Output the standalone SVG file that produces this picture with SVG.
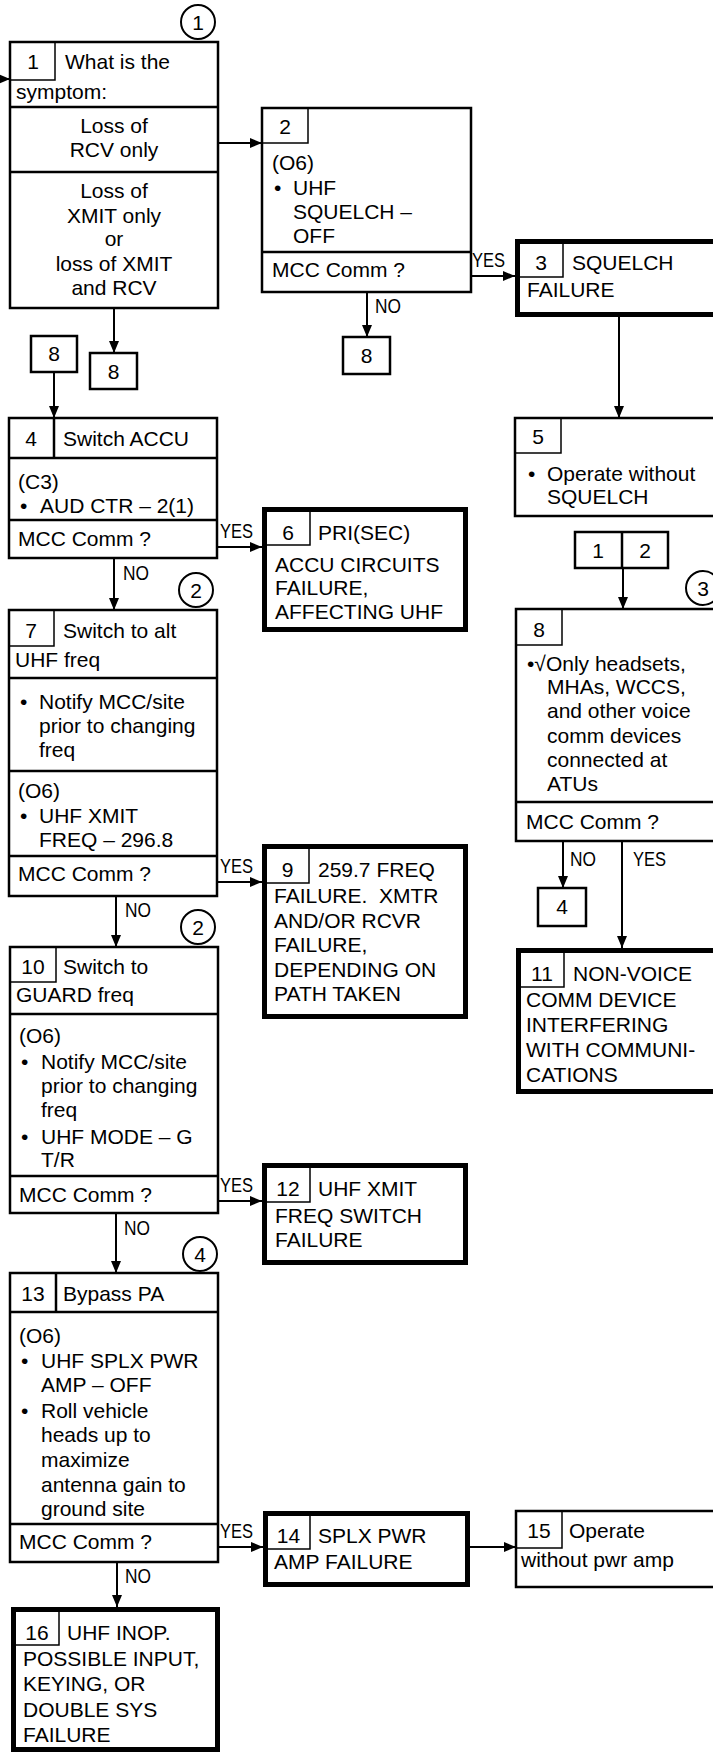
<svg xmlns="http://www.w3.org/2000/svg" width="713" height="1753" viewBox="0 0 713 1753">
<style>
text{font-family:"Liberation Sans",Arial,sans-serif;font-size:21px;fill:#000}
.c{text-anchor:middle}
.lb{font-size:20px}
.box{fill:#fff;stroke:#000;stroke-width:2.5}
.thick{fill:#fff;stroke:#000;stroke-width:5}
.nb{fill:none;stroke:#000;stroke-width:1.5}
.ln{stroke:#000;stroke-width:2.5;fill:none}
.conn{stroke:#000;stroke-width:2;fill:none;marker-end:url(#ah)}
.circ{fill:#fff;stroke:#000;stroke-width:2}
</style>
<defs>
<marker id="ah" markerUnits="userSpaceOnUse" markerWidth="12" markerHeight="10" refX="12" refY="5" orient="auto">
<path d="M0,0 L12,5 L0,10 z" fill="#000"/>
</marker>
</defs>
<rect width="713" height="1753" fill="#fff"/>

<g id="connectors">
<line class="conn" x1="-5" y1="79" x2="10" y2="79"/>
<line class="conn" x1="218" y1="143" x2="262" y2="143"/>
<line class="conn" x1="367" y1="292" x2="367" y2="337"/>
<line class="conn" x1="471" y1="276" x2="515" y2="276"/>
<line class="conn" x1="619" y1="317" x2="619" y2="418"/>
<line class="conn" x1="623" y1="568" x2="623" y2="609"/>
<line class="conn" x1="563" y1="841" x2="563" y2="888"/>
<line class="conn" x1="622" y1="841" x2="622" y2="948"/>
<line class="conn" x1="114" y1="308" x2="114" y2="353"/>
<line class="conn" x1="54" y1="372" x2="54" y2="418"/>
<line class="conn" x1="217" y1="547" x2="262" y2="547"/>
<line class="conn" x1="114" y1="558" x2="114" y2="610"/>
<line class="conn" x1="217" y1="882" x2="262" y2="882"/>
<line class="conn" x1="116" y1="896" x2="116" y2="947"/>
<line class="conn" x1="218" y1="1201" x2="262" y2="1201"/>
<line class="conn" x1="116" y1="1213" x2="116" y2="1273"/>
<line class="conn" x1="218" y1="1547" x2="263" y2="1547"/>
<line class="conn" x1="470" y1="1547" x2="516" y2="1547"/>
<line class="conn" x1="117" y1="1562" x2="117" y2="1607"/>
<text class="lb" x="375" y="313" textLength="26" lengthAdjust="spacingAndGlyphs">NO</text>
<text class="lb" x="472" y="267" textLength="33" lengthAdjust="spacingAndGlyphs">YES</text>
<text class="lb" x="570" y="866" textLength="26" lengthAdjust="spacingAndGlyphs">NO</text>
<text class="lb" x="633" y="866" textLength="33" lengthAdjust="spacingAndGlyphs">YES</text>
<text class="lb" x="220" y="538" textLength="33" lengthAdjust="spacingAndGlyphs">YES</text>
<text class="lb" x="123" y="580" textLength="26" lengthAdjust="spacingAndGlyphs">NO</text>
<text class="lb" x="220" y="873" textLength="33" lengthAdjust="spacingAndGlyphs">YES</text>
<text class="lb" x="125" y="917" textLength="26" lengthAdjust="spacingAndGlyphs">NO</text>
<text class="lb" x="220" y="1192" textLength="33" lengthAdjust="spacingAndGlyphs">YES</text>
<text class="lb" x="124" y="1235" textLength="26" lengthAdjust="spacingAndGlyphs">NO</text>
<text class="lb" x="220" y="1538" textLength="33" lengthAdjust="spacingAndGlyphs">YES</text>
<text class="lb" x="125" y="1583" textLength="26" lengthAdjust="spacingAndGlyphs">NO</text>
</g>

<g id="circle1"><circle class="circ" cx="198" cy="22" r="17"/><text class="c" x="198" y="30">1</text></g>
<g id="circle2a"><circle class="circ" cx="196" cy="590" r="17"/><text class="c" x="196" y="598">2</text></g>
<g id="circle2b"><circle class="circ" cx="198" cy="927" r="17"/><text class="c" x="198" y="935">2</text></g>
<g id="circle3"><circle class="circ" cx="703" cy="588" r="17"/><text class="c" x="703" y="596">3</text></g>
<g id="circle4"><circle class="circ" cx="200" cy="1254" r="17"/><text class="c" x="200" y="1262">4</text></g>

<g id="node1">
<rect class="box" x="10" y="42" width="208" height="266"/>
<rect class="nb" x="10" y="42" width="45" height="38"/>
<line class="ln" x1="10" y1="107" x2="218" y2="107"/>
<line class="ln" x1="10" y1="172" x2="218" y2="172"/>
<text class="c" x="33" y="69">1</text>
<text x="65" y="69">What is the</text>
<text x="16" y="99">symptom:</text>
<text class="c" x="114" y="133">Loss of</text>
<text class="c" x="114" y="157">RCV only</text>
<text class="c" x="114" y="198">Loss of</text>
<text class="c" x="114" y="223">XMIT only</text>
<text class="c" x="114" y="246">or</text>
<text class="c" x="114" y="271">loss of XMIT</text>
<text class="c" x="114" y="295">and RCV</text>
</g>

<g id="node2">
<rect class="box" x="262" y="108" width="209" height="184"/>
<rect class="nb" x="262" y="108" width="46" height="35"/>
<line class="ln" x1="262" y1="252" x2="471" y2="252"/>
<text class="c" x="285" y="134">2</text>
<text x="272" y="170">(O6)</text>
<text x="274" y="195">•</text>
<text x="293" y="195">UHF</text>
<text x="293" y="219">SQUELCH –</text>
<text x="293" y="243">OFF</text>
<text x="272" y="277">MCC Comm ?</text>
</g>

<g id="ref8a"><rect class="box" x="343" y="337" width="47" height="37"/><text class="c" x="366.5" y="363">8</text></g>

<g id="node3">
<rect class="thick" x="517.5" y="241.5" width="230" height="73"/>
<rect class="nb" x="519" y="243" width="44" height="34"/>
<text class="c" x="541" y="270">3</text>
<text x="572" y="270">SQUELCH</text>
<text x="527" y="297">FAILURE</text>
</g>

<g id="node5">
<rect class="box" x="515" y="418" width="230" height="98"/>
<rect class="nb" x="515" y="418" width="46" height="35"/>
<text class="c" x="538" y="444">5</text>
<text x="528" y="481">•</text>
<text x="547" y="481">Operate without</text>
<text x="547" y="504">SQUELCH</text>
</g>

<g id="ref12">
<rect class="box" x="575" y="532" width="93" height="36"/>
<line class="ln" x1="622" y1="532" x2="622" y2="568"/>
<text class="c" x="598" y="558">1</text>
<text class="c" x="645" y="558">2</text>
</g>

<g id="node8">
<rect class="box" x="516" y="609" width="230" height="232"/>
<rect class="nb" x="516" y="609" width="46" height="36"/>
<line class="ln" x1="516" y1="802" x2="746" y2="802"/>
<text class="c" x="539" y="637">8</text>
<text x="527" y="671">•√Only headsets,</text>
<text x="547" y="694">MHAs, WCCS,</text>
<text x="547" y="718">and other voice</text>
<text x="547" y="743">comm devices</text>
<text x="547" y="767">connected at</text>
<text x="547" y="791">ATUs</text>
<text x="526" y="829">MCC Comm ?</text>
</g>

<g id="ref4"><rect class="box" x="538" y="888" width="48" height="38"/><text class="c" x="562" y="914">4</text></g>

<g id="node11">
<rect class="thick" x="518.5" y="950.5" width="230" height="141"/>
<rect class="nb" x="520" y="952" width="44" height="35"/>
<text class="c" x="542" y="981">11</text>
<text x="573" y="981">NON-VOICE</text>
<text x="526" y="1007">COMM DEVICE</text>
<text x="526" y="1032">INTERFERING</text>
<text x="526" y="1057">WITH COMMUNI-</text>
<text x="526" y="1082">CATIONS</text>
</g>

<g id="ref8b"><rect class="box" x="31" y="336" width="46" height="36"/><text class="c" x="54" y="361">8</text></g>
<g id="ref8c"><rect class="box" x="90" y="353" width="47" height="36"/><text class="c" x="113.5" y="379">8</text></g>

<g id="node4">
<rect class="box" x="9" y="418" width="208" height="140"/>
<line class="ln" x1="54" y1="418" x2="54" y2="458"/>
<line class="ln" x1="9" y1="458" x2="217" y2="458"/>
<line class="ln" x1="9" y1="520" x2="217" y2="520"/>
<text class="c" x="31" y="446">4</text>
<text x="63" y="446">Switch ACCU</text>
<text x="18" y="489">(C3)</text>
<text x="20" y="513">•</text>
<text x="40" y="513">AUD CTR – 2(1)</text>
<text x="18" y="546">MCC Comm ?</text>
</g>

<g id="node6">
<rect class="thick" x="264.5" y="509.5" width="201" height="120"/>
<rect class="nb" x="266" y="511" width="44" height="34"/>
<text class="c" x="288" y="540">6</text>
<text x="318" y="540">PRI(SEC)</text>
<text x="275" y="572">ACCU CIRCUITS</text>
<text x="275" y="595">FAILURE,</text>
<text x="275" y="619">AFFECTING UHF</text>
</g>

<g id="node7">
<rect class="box" x="9" y="610" width="208" height="286"/>
<rect class="nb" x="9" y="610" width="45" height="36"/>
<line class="ln" x1="9" y1="678" x2="217" y2="678"/>
<line class="ln" x1="9" y1="771" x2="217" y2="771"/>
<line class="ln" x1="9" y1="856" x2="217" y2="856"/>
<text class="c" x="31" y="638">7</text>
<text x="63" y="638">Switch to alt</text>
<text x="15" y="667">UHF freq</text>
<text x="20" y="709">•</text>
<text x="39" y="709">Notify MCC/site</text>
<text x="39" y="733">prior to changing</text>
<text x="39" y="757">freq</text>
<text x="18" y="798">(O6)</text>
<text x="20" y="823">•</text>
<text x="39" y="823">UHF XMIT</text>
<text x="39" y="847">FREQ – 296.8</text>
<text x="18" y="881">MCC Comm ?</text>
</g>

<g id="node9">
<rect class="thick" x="264.5" y="846.5" width="201" height="170"/>
<rect class="nb" x="266" y="848" width="43" height="35"/>
<text class="c" x="287.5" y="877">9</text>
<text x="318" y="877">259.7 FREQ</text>
<text x="274" y="903" xml:space="preserve">FAILURE.  XMTR</text>
<text x="274" y="928">AND/OR RCVR</text>
<text x="274" y="952">FAILURE,</text>
<text x="274" y="977">DEPENDING ON</text>
<text x="274" y="1001">PATH TAKEN</text>
</g>

<g id="node10">
<rect class="box" x="10" y="947" width="208" height="266"/>
<rect class="nb" x="10" y="947" width="46" height="35"/>
<line class="ln" x1="10" y1="1014" x2="218" y2="1014"/>
<line class="ln" x1="10" y1="1176" x2="218" y2="1176"/>
<text class="c" x="33" y="974">10</text>
<text x="63" y="974">Switch to</text>
<text x="16" y="1002">GUARD freq</text>
<text x="19" y="1043">(O6)</text>
<text x="21" y="1069">•</text>
<text x="41" y="1069">Notify MCC/site</text>
<text x="41" y="1093">prior to changing</text>
<text x="41" y="1117">freq</text>
<text x="21" y="1144">•</text>
<text x="41" y="1144">UHF MODE – G</text>
<text x="41" y="1167">T/R</text>
<text x="19" y="1202">MCC Comm ?</text>
</g>

<g id="node12">
<rect class="thick" x="264.5" y="1165.5" width="201" height="97"/>
<rect class="nb" x="266" y="1167" width="44" height="35"/>
<text class="c" x="288" y="1196">12</text>
<text x="318" y="1196">UHF XMIT</text>
<text x="275" y="1223">FREQ SWITCH</text>
<text x="275" y="1247">FAILURE</text>
</g>

<g id="node13">
<rect class="box" x="10" y="1273" width="208" height="289"/>
<line class="ln" x1="56" y1="1273" x2="56" y2="1312"/>
<line class="ln" x1="10" y1="1312" x2="218" y2="1312"/>
<line class="ln" x1="10" y1="1524" x2="218" y2="1524"/>
<text class="c" x="33" y="1301">13</text>
<text x="63" y="1301">Bypass PA</text>
<text x="19" y="1343">(O6)</text>
<text x="21" y="1368">•</text>
<text x="41" y="1368">UHF SPLX PWR</text>
<text x="41" y="1392">AMP – OFF</text>
<text x="21" y="1418">•</text>
<text x="41" y="1418">Roll vehicle</text>
<text x="41" y="1442">heads up to</text>
<text x="41" y="1467">maximize</text>
<text x="41" y="1492">antenna gain to</text>
<text x="41" y="1516">ground site</text>
<text x="19" y="1549">MCC Comm ?</text>
</g>

<g id="node14">
<rect class="thick" x="265.5" y="1513.5" width="202" height="71"/>
<rect class="nb" x="267" y="1515" width="43" height="34"/>
<text class="c" x="288.5" y="1543">14</text>
<text x="318" y="1543">SPLX PWR</text>
<text x="274" y="1569">AMP FAILURE</text>
</g>

<g id="node15">
<rect class="box" x="516" y="1511" width="230" height="76"/>
<rect class="nb" x="516" y="1511" width="46" height="37"/>
<text class="c" x="539" y="1538">15</text>
<text x="569" y="1538">Operate</text>
<text x="521" y="1567">without pwr amp</text>
</g>

<g id="node16">
<rect class="thick" x="13.5" y="1609.5" width="204" height="140"/>
<rect class="nb" x="15" y="1611" width="44" height="34"/>
<text class="c" x="37" y="1640">16</text>
<text x="67" y="1640">UHF INOP.</text>
<text x="23" y="1666">POSSIBLE INPUT,</text>
<text x="23" y="1691">KEYING, OR</text>
<text x="23" y="1717">DOUBLE SYS</text>
<text x="23" y="1742">FAILURE</text>
</g>
</svg>
